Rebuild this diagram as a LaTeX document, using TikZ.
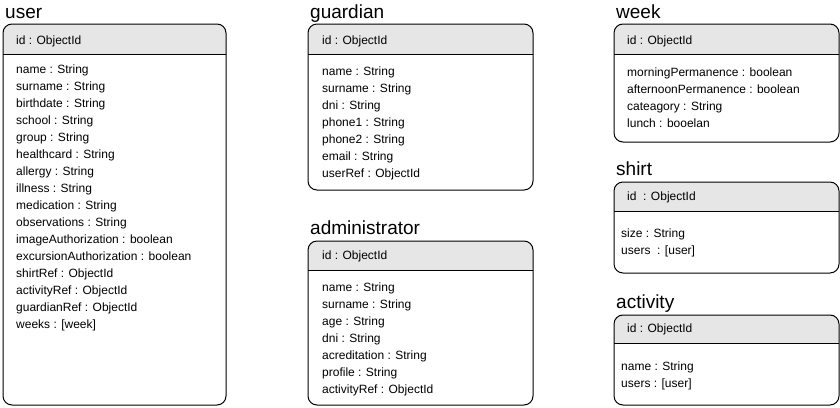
\documentclass[tikz,border=0pt]{standalone}
\usepackage{fontspec}
\setmainfont{Liberation Sans}
\usetikzlibrary{calc}
\definecolor{headgray}{HTML}{E6E6E6}
\tikzset{
  entitytitle/.style={anchor=base west, inner sep=0pt, font=\fontsize{19}{22}\selectfont},
  fieldtext/.style={anchor=base west, inner sep=0pt, font=\fontsize{12}{14}\selectfont},
  entitybox/.style={draw, line width=1pt, rounded corners=9pt},
}

\begin{document}
\begin{tikzpicture}[x=1pt, y=-1pt]
	\useasboundingbox (0,0) rectangle (840,407);
	% user
	\node [entitytitle] (user) at (5,18) {user};
	\fill [headgray] (3,54) [rounded corners=9pt] -- (3,24) -- (226,24) [sharp corners] -- (226,54) -- cycle;
	\draw [entitybox] (3,24) rectangle (226,405);
	\draw [line width=1pt] (3,54) -- (226,54);
	\node [fieldtext] (user-id) at (16,44) {id : ObjectId};
	\foreach \f [count=\i] in {name : String, surname : String, birthdate : String,
		school : String, group : String, healthcard : String, allergy : String,
		illness : String, medication : String, observations : String,
		imageAuthorization : boolean, excursionAuthorization : boolean,
		shirtRef : ObjectId, activityRef : ObjectId, guardianRef : ObjectId,
		{weeks : [week]}}
		\node [fieldtext] (user-\i) at (16,{56.5+17*\i}) {\f};
	% guardian
	\node [entitytitle] (guardian) at (310,18) {guardian};
	\fill [headgray] (308,54) [rounded corners=9pt] -- (308,24) -- (533,24) [sharp corners] -- (533,54) -- cycle;
	\draw [entitybox] (308,24) rectangle (533,190);
	\draw [line width=1pt] (308,54) -- (533,54);
	\node [fieldtext] (guardian-id) at (322,44) {id : ObjectId};
	\foreach \f [count=\i] in {name : String, surname : String, dni : String,
		phone1 : String, phone2 : String, email : String, userRef : ObjectId}
		\node [fieldtext] (guardian-\i) at (322,{58.5+17*\i}) {\f};
	% administrator
	\node [entitytitle] (administrator) at (310,234) {administrator};
	\fill [headgray] (308,270) [rounded corners=9pt] -- (308,241) -- (533,241) [sharp corners] -- (533,270) -- cycle;
	\draw [entitybox] (308,241) rectangle (533,405);
	\draw [line width=1pt] (308,270) -- (533,270);
	\node [fieldtext] (administrator-id) at (322,259.5) {id : ObjectId};
	\foreach \f [count=\i] in {name : String, surname : String, age : String,
		dni : String, acreditation : String, profile : String, activityRef : ObjectId}
		\node [fieldtext] (administrator-\i) at (322,{274.5+17*\i}) {\f};
	% week
	\node [entitytitle] (week) at (616,18) {week};
	\fill [headgray] (614,54) [rounded corners=9pt] -- (614,24) -- (839,24) [sharp corners] -- (839,54) -- cycle;
	\draw [entitybox] (614,24) rectangle (839,142);
	\draw [line width=1pt] (614,54) -- (839,54);
	\node [fieldtext] (week-id) at (627,44) {id : ObjectId};
	\foreach \f [count=\i] in {morningPermanence : boolean, afternoonPermanence : boolean,
		cateagory : String, lunch : booelan}
		\node [fieldtext] (week-\i) at (627,{59.5+17*\i}) {\f};
	% shirt
	\node [entitytitle] (shirt) at (616,175.5) {shirt};
	\fill [headgray] (614,211) [rounded corners=9pt] -- (614,182) -- (839,182) [sharp corners] -- (839,211) -- cycle;
	\draw [entitybox] (614,182) rectangle (839,273);
	\draw [line width=1pt] (614,211) -- (839,211);
	\node [fieldtext] (shirt-id) at (627,200.5) {id\ \ : ObjectId};
	\node [fieldtext] (shirt-1) at (621,237.5) {size : String};
	\node [fieldtext] (shirt-2) at (621,254.5) {users\ \ : [user]};
	% activity
	\node [entitytitle] (activity) at (616,308.5) {activity};
	\fill [headgray] (614,343) [rounded corners=9pt] -- (614,315) -- (839,315) [sharp corners] -- (839,343) -- cycle;
	\draw [entitybox] (614,315) rectangle (839,405);
	\draw [line width=1pt] (614,343) -- (839,343);
	\node [fieldtext] (activity-id) at (627,332.5) {id : ObjectId};
	\node [fieldtext] (activity-1) at (621,370.5) {name : String};
	\node [fieldtext] (activity-2) at (621,387.5) {users : [user]};
\end{tikzpicture}
\end{document}
